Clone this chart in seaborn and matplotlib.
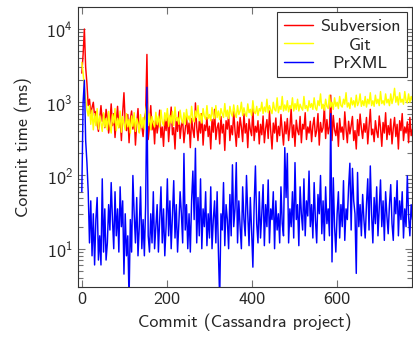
import numpy as np
import pandas as pd
import matplotlib
matplotlib.use("Agg")
import matplotlib.pyplot as plt
import seaborn as sns

# one reading every 3 commits
commits = np.arange(0, 780, 3)

subversion = [
    2500, 4500, 10000, 3000, 1800, 900, 1100, 700, 850, 1000, 650, 750, 500, 400, 600, 900, 550, 700, 450, 800,
    620, 380, 540, 950, 480, 700, 330, 560, 880, 450, 620, 300, 720, 1350, 520, 410, 680, 280, 590, 760,
    430, 650, 260, 510, 820, 390, 560, 470, 340, 600, 720, 4500, 310, 480, 900, 420, 550, 270, 640, 380,
    500, 780, 330, 460, 250, 590, 410, 700, 290, 520, 860, 360, 450, 230, 610, 400, 740, 320, 480, 560,
    280, 430, 650, 370, 520, 240, 600, 420, 330, 980, 460, 300, 550, 380, 700, 260, 490, 410, 620, 340,
    470, 230, 580, 390, 800, 310, 450, 520, 270, 640, 380, 500, 220, 560, 430, 690, 300, 480, 360, 750,
    410, 250, 540, 330, 620, 460, 290, 700, 380, 510, 240, 590, 420, 350, 860, 300, 470, 390, 560, 270,
    500, 360, 650, 280, 440, 580, 320, 760, 400, 230, 520, 380, 610, 290, 470, 350, 680, 410, 260, 540,
    370, 600, 300, 450, 820, 330, 490, 250, 570, 410, 360, 640, 280, 500, 430, 720, 310, 460, 380, 550,
    290, 480, 620, 340, 410, 700, 260, 530, 390, 450, 900, 320, 580, 370, 470, 1250, 300, 660, 420, 350,
    520, 250, 600, 390, 460, 310, 740, 430, 280, 550, 370, 480, 640, 300, 410, 230, 580, 350, 690, 440,
    320, 510, 390, 620, 270, 470, 800, 360, 430, 290, 560, 400, 330, 650, 450, 250, 530, 380, 720, 310,
    480, 360, 590, 270, 440, 620, 340, 500, 230, 560, 410, 700, 300, 460, 380, 540, 280, 620, 350, 430,
]

git = [
    3500, 2500, 1600, 1100, 800, 650, 900, 500, 780, 420, 700, 480, 820, 430, 650, 520, 400, 720, 460, 600,
    420, 750, 480, 380, 680, 520, 820, 410, 600, 450, 760, 390, 640, 500, 420, 700, 460, 580, 380, 650,
    470, 720, 400, 600, 520, 380, 680, 450, 620, 430, 760, 950, 480, 700, 420, 640, 520, 460, 730, 500,
    650, 460, 780, 540, 480, 720, 560, 820, 470, 660, 520, 750, 480, 860, 560, 620, 500, 780, 580, 520,
    720, 500, 800, 580, 650, 520, 880, 600, 540, 760, 620, 900, 560, 700, 520, 820, 640, 580, 900, 600,
    680, 560, 850, 640, 600, 900, 620, 760, 580, 820, 700, 620, 960, 640, 780, 600, 880, 700, 640, 920,
    700, 620, 900, 680, 760, 1000, 660, 840, 700, 640, 950, 720, 800, 660, 1050, 740, 700, 880, 660, 820,
    760, 1000, 700, 860, 740, 1100, 720, 900, 780, 700, 1000, 800, 760, 1150, 720, 880, 800, 1200, 760, 920,
    780, 1050, 740, 900, 820, 1150, 760, 960, 800, 1100, 760, 940, 840, 780, 1200, 820, 900, 760, 1050, 850,
    960, 800, 1150, 840, 780, 1050, 900, 1300, 820, 940, 780, 1100, 880, 820, 1250, 860, 1000, 800, 1150, 880,
    1000, 820, 1200, 900, 860, 1100, 940, 1350, 860, 980, 820, 1150, 920, 1050, 860, 1250, 900, 1000, 1300, 880,
    1050, 900, 1200, 860, 1100, 950, 1350, 900, 1050, 880, 1250, 960, 1100, 900, 1400, 960, 1050, 920, 1300, 980,
    1100, 900, 1300, 960, 1150, 1550, 1000, 1200, 920, 1350, 1000, 1100, 940, 1400, 1050, 980, 1300, 1000, 1200, 1050,
]

prxml = [
    60, 1000, 2000, 300, 150, 60, 12, 45, 8, 30, 6, 25, 50, 7, 15, 6, 90, 9, 35, 7,
    12, 40, 18, 80, 25, 10, 60, 15, 35, 9, 70, 20, 45, 4.5, 30, 8, 15, 2, 25, 9,
    100, 30, 12, 50, 8, 20, 70, 10, 25, 8, 40, 1600, 15, 9, 30, 12, 60, 10, 20, 40,
    9, 25, 70, 12, 35, 8, 20, 90, 15, 45, 10, 28, 85, 14, 40, 9, 22, 60, 30, 12,
    200, 18, 40, 10, 30, 9, 45, 115, 25, 235, 12, 50, 15, 90, 10, 35, 20, 60, 11, 30,
    14, 70, 10, 25, 45, 12, 60, 9, 2, 30, 18, 80, 11, 40, 25, 10, 55, 15, 140, 20,
    35, 150, 12, 45, 20, 10, 70, 25, 15, 100, 30, 11, 50, 18, 5.6, 40, 135, 22, 12, 60,
    14, 30, 75, 11, 40, 20, 87, 12, 35, 25, 60, 10, 45, 18, 30, 12, 70, 22, 15, 240,
    50, 200, 12, 35, 20, 60, 14, 150, 25, 40, 11, 70, 30, 18, 90, 15, 45, 28, 115, 20,
    40, 14, 80, 25, 12, 55, 30, 100, 16, 45, 13, 70, 22, 35, 15, 700, 6.6, 93, 20, 9,
    30, 60, 14, 40, 20, 85, 13, 35, 25, 70, 147, 18, 125, 45, 30, 4.6, 110, 20, 40, 15,
    55, 25, 14, 40, 90, 18, 135, 30, 12, 50, 22, 70, 15, 35, 87, 20, 45, 13, 60, 28,
    16, 40, 75, 22, 13, 50, 30, 85, 15, 45, 25, 60, 14, 35, 20, 99, 28, 15, 40, 25,
]

systems = ["Subversion", "Git", "PrXML"]
colors = {"Subversion": "#ff0000", "Git": "#ffff00", "PrXML": "#0000ff"}

sns.set_style("ticks")
plt.rcParams["font.family"] = ["cmss10", "DejaVu Sans"]
plt.rcParams["font.size"] = 13
plt.rcParams["axes.unicode_minus"] = False

df = pd.DataFrame({
    "commit": np.tile(commits, 3),
    "time": subversion + git + prxml,
    "system": np.repeat(systems, len(commits)),
})

fig = plt.figure(figsize=(4.13, 3.38), dpi=100)
ax = fig.add_axes([78 / 413, 51 / 338, 334 / 413, 280 / 338])

sns.lineplot(data=df, x="commit", y="time", hue="system", hue_order=systems,
             palette=colors, linewidth=1.05, errorbar=None, legend=False, ax=ax)

ax.set_yscale("log")
ax.set_xlim(-9, 776)
ax.set_ylim(3, 2e4)
ax.set_xticks([0, 200, 400, 600])
ax.set_xlabel("Commit (Cassandra project)", labelpad=5)
ax.set_ylabel("Commit time (ms)", labelpad=10)

ax.tick_params(which="both", direction="in", top=True, right=True,
               color="0.45", width=0.8)
ax.tick_params(which="major", length=5)
ax.tick_params(which="minor", length=3.5)
for s in ax.spines.values():
    s.set_color("0.2")
    s.set_linewidth(0.8)

leg = ax.legend(ax.get_lines()[:3], systems, loc="upper right",
                fancybox=False, framealpha=1, edgecolor="0.2",
                borderaxespad=0.3, borderpad=0.35, handlelength=1.6,
                handletextpad=0.4, labelspacing=0.15)
leg.get_frame().set_linewidth(0.8)

# centre the labels in the legend column
fig.canvas.draw()
texts = leg.get_texts()
widths = [t.get_window_extent().width for t in texts]
for t, w in zip(texts, widths):
    t.set_x((max(widths) - w) / 2)

fig.savefig("out.png", dpi=100)
